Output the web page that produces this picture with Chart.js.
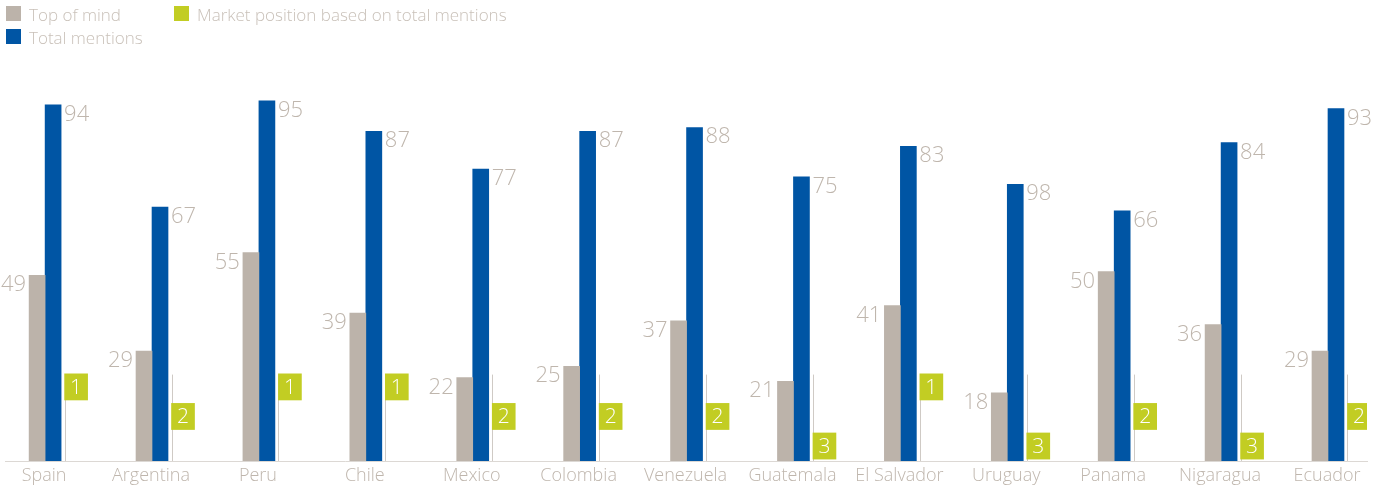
<!DOCTYPE html>
<html>
<head>
<meta charset="utf-8">
<script src="https://cdn.jsdelivr.net/npm/chart.js@4/dist/chart.umd.min.js"></script>
<style>
  html, body { margin: 0; padding: 0; background: #fff; }
  #wrap { position: relative; width: 1383px; height: 488px; }
  #legend { position: absolute; left: 6px; top: 4px; font-family: 'Open Sans', sans-serif; font-weight: 300; font-size: 17px; color: #c9c1b9; }
  .item { position: absolute; white-space: nowrap; height: 20px; line-height: 20px; }
  .sw { position: absolute; left: 0; top: 2px; width: 15px; height: 15px; }
  .tx { position: absolute; left: 23px; top: 1px; }
</style>
</head>
<body>
<div id="wrap">
  <canvas id="c" width="1383" height="488"></canvas>
  <div id="legend"></div>
</div>
<script>
const countries = ['Spain','Argentina','Peru','Chile','Mexico','Colombia','Venezuela','Guatemala','El Salvador','Uruguay','Panama','Nigaragua','Ecuador'];
const topOfMind = [49, 29, 55, 39, 22, 25, 37, 21, 41, 18, 50, 36, 29];
// bar heights as drawn in the picture
const totalMentions = [94, 67, 95, 87, 77, 87, 88, 75, 83, 73, 66, 84, 93];
// numbers printed next to the blue bars
const totalMentionsLabels = ['94', '67', '95', '87', '77', '87', '88', '75', '83', '98', '66', '84', '93'];
const marketPosition = [1, 2, 1, 1, 2, 2, 2, 3, 1, 3, 2, 3, 2];

const GRAY = '#bcb3aa';
const BLUE = '#0055a4';
const GREEN = '#c2cd23';
const TEXT = '#bfb6ad';
const FONT = "'Open Sans', sans-serif";

// flag slots (value units): rank 1 highest
const FLAG_TOP = 23, FLAG_STEP = 7.8, FLAG_H = 6.9, POLE_TOP = 22.8;
const flagData = marketPosition.map((r, i) => {
  const hi = FLAG_TOP - (r - 1) * FLAG_STEP;
  return { x: i, y: [hi - FLAG_H, hi] };
});

const labelPlugin = {
  id: 'labels',
  beforeDatasetsDraw(chart) {
    const ctx = chart.ctx, y = chart.scales.y;
    const meta = chart.getDatasetMeta(2);
    ctx.save();
    ctx.strokeStyle = '#cfcac5';
    ctx.lineWidth = 1;
    meta.data.forEach(el => {
      const x = Math.round(el.x - el.width / 2) + 0.5;
      ctx.beginPath();
      ctx.moveTo(x, y.getPixelForValue(0));
      ctx.lineTo(x, y.getPixelForValue(POLE_TOP));
      ctx.stroke();
    });
    ctx.restore();
  },
  afterDatasetsDraw(chart) {
    const ctx = chart.ctx;
    ctx.save();
    ctx.font = '300 22px ' + FONT;
    ctx.fillStyle = TEXT;
    ctx.textBaseline = 'alphabetic';
    chart.getDatasetMeta(0).data.forEach((el, i) => {
      ctx.textAlign = 'right';
      ctx.fillText(String(topOfMind[i]), el.x - el.width / 2 - 3, el.y + 16);
    });
    chart.getDatasetMeta(1).data.forEach((el, i) => {
      ctx.textAlign = 'left';
      ctx.fillText(totalMentionsLabels[i], el.x + el.width / 2 + 3, el.y + 16);
    });
    ctx.font = '300 21px ' + FONT;
    ctx.fillStyle = '#ffffff';
    ctx.textAlign = 'center';
    ctx.textBaseline = 'middle';
    chart.getDatasetMeta(2).data.forEach((el, i) => {
      ctx.fillText(String(marketPosition[i]), el.x, (el.y + el.base) / 2 + 1);
    });
    ctx.restore();
  }
};

const chart = new Chart(document.getElementById('c'), {
  type: 'bar',
  data: {
    datasets: [
      { label: 'Top of mind', data: topOfMind.map((v, i) => ({ x: i, y: v })), backgroundColor: GRAY, barThickness: 16 },
      { label: 'Total mentions', data: totalMentions.map((v, i) => ({ x: i, y: v })), backgroundColor: BLUE, barThickness: 16 },
      { label: 'Market position based on total mentions', data: flagData, backgroundColor: GREEN, barThickness: 23 }
    ]
  },
  options: {
    responsive: false,
    animation: false,
    devicePixelRatio: 1,
    layout: { padding: { left: 5, right: 16, top: 82, bottom: 0 } },
    plugins: { legend: { display: false }, tooltip: { enabled: false } },
    scales: {
      x: {
        type: 'linear',
        offset: false,
        min: -0.45,
        max: 12.29,
        grace: 0,
        grid: { display: false, drawTicks: false },
        border: { display: true, color: '#dcd8d4', width: 1 },
        afterFit: s => { s.height = 27; },
        ticks: {
          stepSize: 1,
          includeBounds: false,
          autoSkip: false,
          maxRotation: 0,
          maxTicksLimit: 30,
          labelOffset: -9,
          padding: 4,
          color: TEXT,
          font: { family: FONT, size: 18, weight: 300 },
          callback: v => (Number.isInteger(v) && countries[v] !== undefined) ? countries[v] : ''
        }
      },
      y: { display: false, min: 0, max: 100 }
    }
  },
  plugins: [labelPlugin]
});

// HTML legend in two columns
const legend = document.getElementById('legend');
const pos = [[0, 0], [0, 23], [168, 0]];
chart.data.datasets.forEach((ds, i) => {
  const it = document.createElement('div');
  it.className = 'item';
  it.style.left = pos[i][0] + 'px';
  it.style.top = pos[i][1] + 'px';
  const sw = document.createElement('span');
  sw.className = 'sw';
  sw.style.background = ds.backgroundColor;
  const tx = document.createElement('span');
  tx.className = 'tx';
  tx.textContent = ds.label;
  it.appendChild(sw); it.appendChild(tx);
  legend.appendChild(it);
});
</script>
</body>
</html>
